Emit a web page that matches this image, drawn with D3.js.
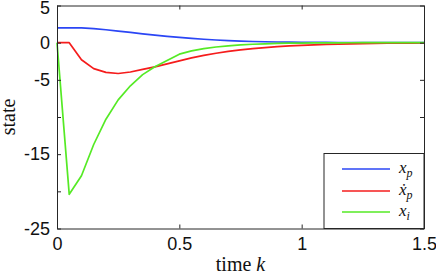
<!DOCTYPE html>
<html><head><meta charset="utf-8">
<script src="https://cdn.jsdelivr.net/npm/d3@7"></script>
<style>body{margin:0;background:#fff}svg{display:block}</style>
</head><body>
<svg id="c" width="436" height="274"></svg>
<script>
const time = d3.range(31).map(i => +(i*0.05).toFixed(2));
const xp = [2.0,2.0,1.98,1.9,1.74,1.56,1.38,1.19,1.01,0.85,0.7,0.57,0.46,0.36,0.28,0.21,0.16,0.12,0.09,0.07,0.05,0.04,0.03,0.02,0.02,0.01,0.01,0.01,0,0,0];
const xpDot = [0,0,-2.3,-3.5,-4.0,-4.15,-3.95,-3.6,-3.25,-2.85,-2.45,-2.05,-1.72,-1.42,-1.18,-0.97,-0.8,-0.66,-0.54,-0.44,-0.36,-0.29,-0.24,-0.19,-0.15,-0.12,-0.1,-0.08,-0.06,-0.05,-0.04];
const xi = [0,-20.4,-17.9,-13.7,-10.3,-7.7,-5.8,-4.3,-3.25,-2.4,-1.55,-1.1,-0.8,-0.58,-0.42,-0.3,-0.21,-0.15,-0.1,-0.07,-0.05,-0.04,-0.03,-0.02,-0.01,0,0,0,0,0,0];
const xTicks = [0,0.5,1,1.5];
const xTickLabels = ["0","0.5","1","1.5"];
const yTicks = [5,0,-5,-10,-15,-20,-25];
const yTickLabels = ["5","0","-5","","-15","","-25"];
const seriesNames = ["xp","xpdot","xi"];
const colors = ["#2b46f5","#f51c1c","#55ea25"];

const svg = d3.select("#c");
const x = d3.scaleLinear().domain([0,1.5]).range([57,424]);
const y = d3.scaleLinear().domain([-25,5]).range([228.5,5.5]);
const axisColor = "#262626";

// series
const series = [xp, xpDot, xi];
const line = d3.line().x((d,i)=>x(time[i])).y(d=>y(d));
series.forEach((s,k)=>{
  svg.append("path").datum(s).attr("d",line).attr("fill","none")
    .attr("stroke",colors[k]).attr("stroke-width",1.7).attr("stroke-linejoin","round");
});

// axes with inward ticks, mirrored
const fmtX = (d)=>xTickLabels[xTicks.indexOf(d)];
const fmtY = (d)=>yTickLabels[yTicks.indexOf(d)];
const gB = svg.append("g").attr("transform",`translate(0,${y(-25)})`)
  .call(d3.axisBottom(x).tickValues(xTicks).tickFormat(fmtX).tickSizeInner(-4).tickSizeOuter(0).tickPadding(9));
const gT = svg.append("g").attr("transform",`translate(0,${y(5)})`)
  .call(d3.axisTop(x).tickValues(xTicks).tickFormat("").tickSizeInner(-4).tickSizeOuter(0));
const gL = svg.append("g").attr("transform",`translate(${x(0)},0)`)
  .call(d3.axisLeft(y).tickValues(yTicks).tickFormat(fmtY).tickSizeInner(-4).tickSizeOuter(0).tickPadding(7));
const gR = svg.append("g").attr("transform",`translate(${x(1.5)},0)`)
  .call(d3.axisRight(y).tickValues(yTicks).tickFormat("").tickSizeInner(-4).tickSizeOuter(0));
[gB,gT,gL,gR].forEach(g=>{
  g.selectAll("path,line").attr("stroke",axisColor).attr("stroke-width",1);
  g.selectAll("text").attr("fill","#111").style("font-family","'Liberation Sans',Arial,sans-serif").style("font-size","18px");
});
// keep the top label inside the picture
gL.selectAll(".tick").filter(d=>d===5).select("text").attr("dy","0.42em");

// axis labels
const xl = svg.append("text").attr("x",(x(0)+x(1.5))/2).attr("y",271).attr("text-anchor","middle")
  .style("font-family","'Liberation Serif','Times New Roman',serif").style("font-size","20px").attr("fill","#111");
xl.append("tspan").text("time ");
xl.append("tspan").attr("font-style","italic").text("k");
svg.append("text").attr("transform",`translate(15,${(y(5)+y(-25))/2}) rotate(-90)`).attr("text-anchor","middle")
  .style("font-family","'Liberation Serif','Times New Roman',serif").style("font-size","20px").attr("fill","#111").text("state");

// legend
const lg = svg.append("g");
lg.append("rect").attr("x",324).attr("y",153.5).attr("width",x(1.5)-324).attr("height",y(-25)-153.5)
  .attr("fill","#fff").attr("stroke",axisColor).attr("stroke-width",1);
const rowsY = [169,191,212];
const labels = [["x","p"],["x\u0307","p"],["x","i"]];
rowsY.forEach((ry,k)=>{
  lg.append("line").attr("x1",342).attr("x2",390).attr("y1",ry).attr("y2",ry)
    .attr("stroke",colors[k]).attr("stroke-width",1.7);
  const t = lg.append("text").attr("x",399).attr("y",ry+4)
    .style("font-family","'Liberation Serif','Times New Roman',serif").style("font-size","17px")
    .attr("font-style","italic").attr("fill","#111");
  t.append("tspan").text(labels[k][0]);
  t.append("tspan").attr("dy",4).style("font-size","12px").text(labels[k][1]);
});
</script>
</body></html>
